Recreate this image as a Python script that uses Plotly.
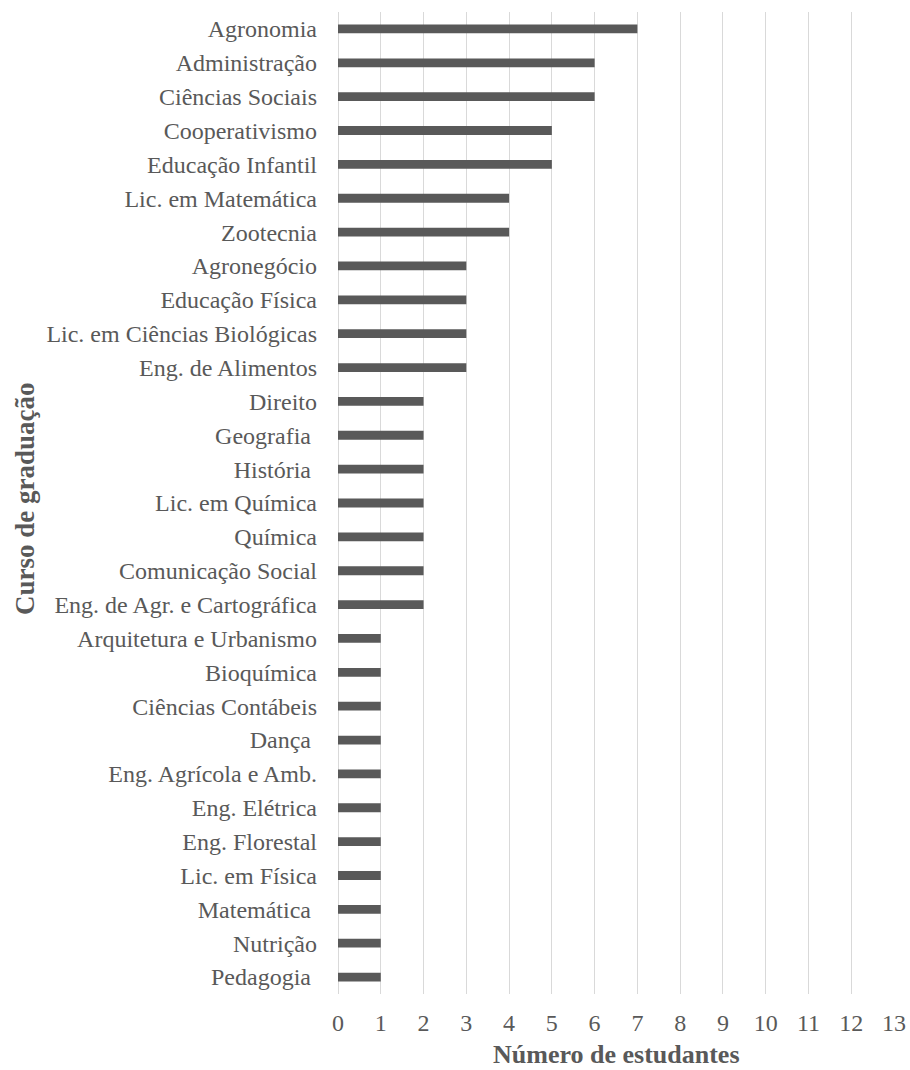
import plotly.graph_objects as go

courses = [
    "Agronomia", "Administração", "Ciências Sociais", "Cooperativismo",
    "Educação Infantil", "Lic. em Matemática", "Zootecnia", "Agronegócio",
    "Educação Física", "Lic. em Ciências Biológicas", "Eng. de Alimentos",
    "Direito", "Geografia\u00a0", "História\u00a0", "Lic. em Química", "Química",
    "Comunicação Social", "Eng. de Agr. e Cartográfica",
    "Arquitetura e Urbanismo", "Bioquímica", "Ciências Contábeis", "Dança\u00a0",
    "Eng. Agrícola e Amb.", "Eng. Elétrica", "Eng. Florestal",
    "Lic. em Física", "Matemática\u00a0", "Nutrição", "Pedagogia\u00a0",
]
students = [7, 6, 6, 5, 5, 4, 4, 3, 3, 3, 3, 2, 2, 2, 2, 2, 2, 2,
            1, 1, 1, 1, 1, 1, 1, 1, 1, 1, 1]
x_ticks = list(range(0, 14))
x_title = "Número de estudantes"
y_title = "Curso de graduação"

TEXT = "#595959"
FONT = "Liberation Serif"

fig = go.Figure(go.Bar(
    x=students, y=courses, orientation="h",
    marker=dict(color="#595959", line=dict(width=0)),
))

fig.update_layout(
    width=910, height=1070,
    margin=dict(l=338, r=16, t=12, b=76),
    plot_bgcolor="white", paper_bgcolor="white",
    bargap=0.74,
    showlegend=False,
    font=dict(family=FONT, color=TEXT, size=24),
    annotations=[
        dict(text=f"<b>{x_title}</b>", xref="paper", yref="paper",
             x=0.5, y=-0.062, xanchor="center", yanchor="middle",
             showarrow=False, font=dict(family=FONT, color=TEXT, size=26)),
        dict(text=f"<b>{y_title}</b>", xref="paper", yref="paper",
             x=-0.563, y=0.505, xanchor="center", yanchor="middle",
             textangle=-90, showarrow=False,
             font=dict(family=FONT, color=TEXT, size=27)),
    ],
)
fig.update_xaxes(
    range=[0, 13], tickvals=x_ticks, ticktext=[str(v) for v in x_ticks],
    showgrid=True, gridcolor="#d9d9d9", gridwidth=1.3,
    zeroline=True, zerolinecolor="#d9d9d9", zerolinewidth=1.3,
    showline=False, ticks="", ticklabelstandoff=12, automargin=False,
    tickfont=dict(family=FONT, color=TEXT, size=24),
)
fig.update_yaxes(
    categoryorder="array", categoryarray=courses, autorange="reversed",
    showgrid=False, showline=False, ticks="", ticklabelstandoff=20,
    automargin=False,
    tickfont=dict(family=FONT, color=TEXT, size=24),
)

# remove the default page margin so the figure fills the window exactly
fig.write_html(
    "out.html",
    config={"displayModeBar": False},
    post_script="document.body.style.margin='0';document.body.style.overflow='hidden';",
)
